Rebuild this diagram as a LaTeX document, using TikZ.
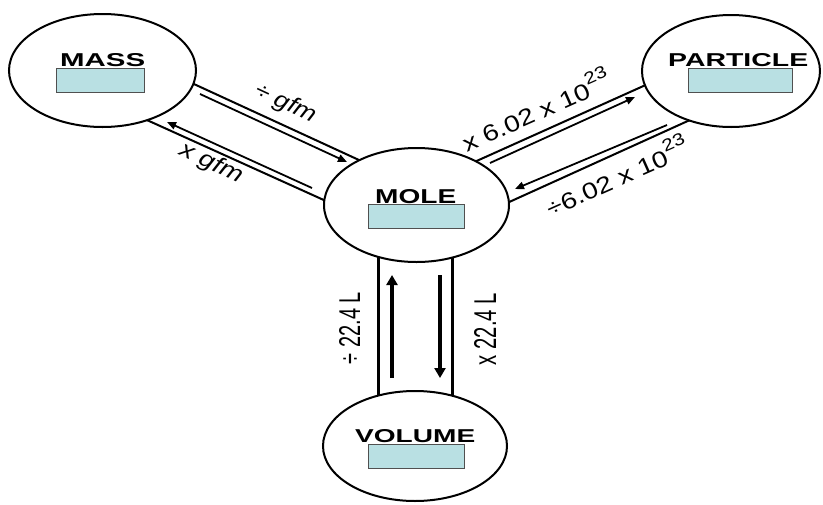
\documentclass[tikz,border=0pt]{standalone}
\usepackage{fontspec}
\setmainfont{Liberation Sans}
\usetikzlibrary{shapes.geometric,arrows.meta}
\definecolor{boxcol}{RGB}{185,224,227}
\definecolor{boxline}{RGB}{80,80,80}
\pgfdeclarelayer{bg}
\pgfsetlayers{bg,main}
\begin{document}
\begin{tikzpicture}[x=1pt,y=-1pt,
  blob/.style={ellipse, draw, line width=2pt, fill=white, inner sep=0pt},
  valbox/.style={draw=boxline, line width=0.9pt, fill=boxcol, minimum height=24pt, inner sep=0pt},
  title/.style={inner sep=0pt, anchor=base west, font=\bfseries},
  tube/.style={line width=2pt},
  vtube/.style={line width=3pt},
  thinarrow/.style={line width=1.8pt, -{Triangle[length=9pt,width=7.5pt]}},
  thickarrow/.style={line width=4.5pt, -{Triangle[length=10pt,width=11pt]}},
  lab/.style={inner sep=0pt, anchor=base},
  difont/.style={font=\fontsize{23}{23}\selectfont\itshape},
  avfont/.style={font=\fontsize{23}{23}\selectfont}]
\useasboundingbox (0,0) rectangle (823,504);

% circles
\node[blob, minimum width=187pt, minimum height=113pt] (mass) at (102.5,70.5) {};
\node[blob, minimum width=178pt, minimum height=112pt] (particle) at (731,71) {};
\node[blob, minimum width=185pt, minimum height=114pt] (mole) at (416.5,205) {};
\node[blob, minimum width=184pt, minimum height=110pt] (volume) at (415,446) {};

% tube end points (hidden inside the circles)
\coordinate (t1a) at (183,79);  \coordinate (t1b) at (372,166);
\coordinate (t2a) at (138,116); \coordinate (t2b) at (337,206);
\coordinate (t3a) at (461,168); \coordinate (t3b) at (659,79);
\coordinate (t4a) at (496,208); \coordinate (t4b) at (701,115);
\coordinate (t5a) at (378,240); \coordinate (t5b) at (378,420);
\coordinate (t6a) at (452,240); \coordinate (t6b) at (452,420);
\begin{pgfonlayer}{bg}
  \draw[tube] (t1a) -- (t1b);
  \draw[tube] (t2a) -- (t2b);
  \draw[tube] (t3a) -- (t3b);
  \draw[tube] (t4a) -- (t4b);
  \draw[vtube] (t5a) -- (t5b);
  \draw[vtube] (t6a) -- (t6b);
\end{pgfonlayer}

% arrows
\coordinate (a1s) at (200,94);  \coordinate (a1e) at (347,162);
\coordinate (a2s) at (312,188); \coordinate (a2e) at (167,122);
\coordinate (a3s) at (490,163); \coordinate (a3e) at (635,97);
\coordinate (a4s) at (667,125); \coordinate (a4e) at (515,189);
\coordinate (a5s) at (392,378); \coordinate (a5e) at (392,275);
\coordinate (a6s) at (440,275); \coordinate (a6e) at (440,378);
\draw[thinarrow] (a1s) -- (a1e);
\draw[thinarrow] (a2s) -- (a2e);
\draw[thinarrow] (a3s) -- (a3e);
\draw[thinarrow] (a4s) -- (a4e);
\draw[thickarrow] (a5s) -- (a5e);
\draw[thickarrow] (a6s) -- (a6e);

% titles
\node[title] (tmass) at (60,66) {\resizebox{85pt}{13pt}{MASS}};
\node[title] (tpart) at (668,66) {\resizebox{140pt}{13pt}{PARTICLE}};
\node[title] (tmole) at (375,203) {\resizebox{81pt}{14pt}{MOLE}};
\node[title] (tvol) at (355,442) {\resizebox{120pt}{13pt}{VOLUME}};

% value boxes
\node[valbox, minimum width=88pt] (bmass) at (100,80) {};
\node[valbox, minimum width=104pt] (bpart) at (740,80) {};
\node[valbox, minimum width=96pt] (bmole) at (416,216) {};
\node[valbox, minimum width=96pt] (bvol) at (416,456) {};

% labels
\node[lab, difont, rotate=-25] (ldiv) at (283,109) {\scalebox{1.15}[1]{÷ gfm}};
\node[lab, difont, rotate=-25] (lmul) at (209,169) {\scalebox{1.2}[1]{x gfm}};
\node[lab, avfont, rotate=24] (lavm) at (540,120)
  {\scalebox{1.22}[1]{x 6.02 x 10\raisebox{0.55em}{\fontsize{17}{17}\selectfont 23}}};
\node[lab, avfont, rotate=24] (lavd) at (621,186)
  {\scalebox{1.22}[1]{÷6.02 x 10\raisebox{0.55em}{\fontsize{17}{17}\selectfont 23}}};
\node[lab, rotate=90] (lvd) at (360,328) {\resizebox{72pt}{21pt}{÷ 22.4 L}};
\node[lab, rotate=90] (lvm) at (496,329) {\resizebox{72pt}{22pt}{x 22.4 L}};
\end{tikzpicture}
\end{document}
